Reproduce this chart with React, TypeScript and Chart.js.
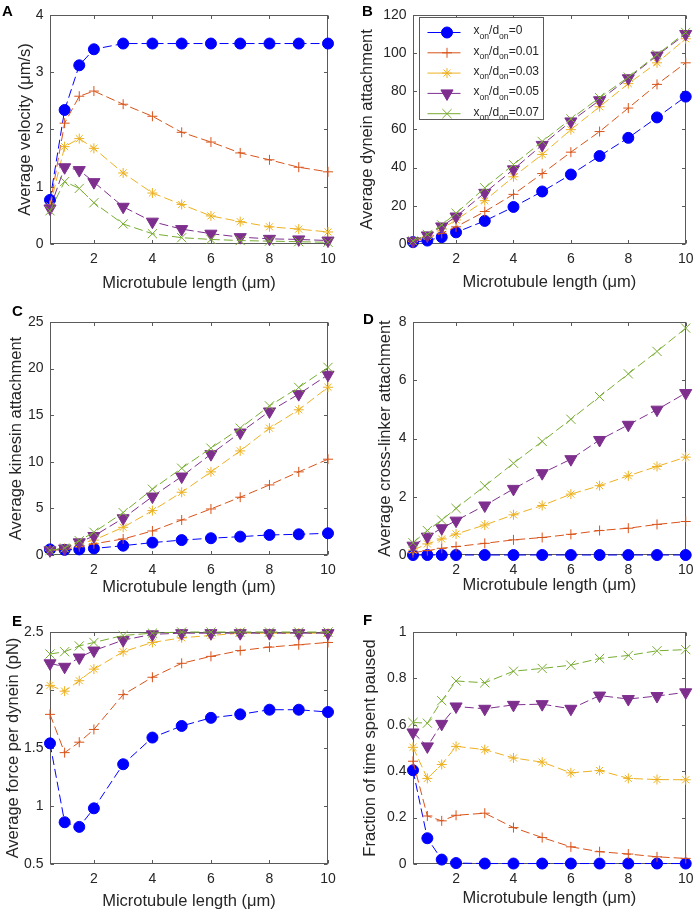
import React, { useEffect, useRef } from "react";
import { Chart, registerables } from "chart.js";

Chart.register(...registerables);

// ---------------- data ----------------
const lengths = [0.5, 1, 1.5, 2, 3, 4, 5, 6, 7, 8, 9, 10];
const ratioLabels = ["0", "0.01", "0.03", "0.05", "0.07"];
const xTicks = [2, 4, 6, 8, 10];

const velocityTicks = [0, 1, 2, 3, 4];
const velocitySeries = [
  [0.77, 2.34, 3.12, 3.4, 3.5, 3.5, 3.5, 3.5, 3.5, 3.5, 3.5, 3.5],
  [0.68, 2.11, 2.58, 2.67, 2.44, 2.23, 1.95, 1.78, 1.59, 1.47, 1.34, 1.26],
  [0.66, 1.7, 1.84, 1.67, 1.24, 0.89, 0.69, 0.49, 0.39, 0.3, 0.26, 0.21],
  [0.62, 1.34, 1.29, 1.08, 0.65, 0.39, 0.26, 0.18, 0.12, 0.09, 0.08, 0.06],
  [0.58, 1.09, 0.97, 0.72, 0.35, 0.18, 0.11, 0.08, 0.06, 0.05, 0.04, 0.03],
];

const dyneinTicks = [0, 20, 40, 60, 80, 100, 120];
const dyneinSeries = [
  [1.0, 1.8, 3.6, 6.1, 12.1, 19.4, 27.5, 36.4, 46.1, 55.6, 66.3, 77.2],
  [1.2, 3.3, 5.6, 9.0, 17.0, 26.0, 36.9, 48.1, 58.9, 71.2, 83.6, 94.9],
  [1.3, 4.0, 8.0, 12.6, 22.7, 35.2, 46.9, 59.9, 71.9, 84.0, 94.9, 107.5],
  [1.5, 4.5, 9.2, 14.4, 26.8, 39.1, 51.9, 64.2, 75.3, 86.8, 98.7, 110.0],
  [1.6, 5.0, 10.0, 16.1, 29.4, 41.6, 53.7, 65.5, 76.7, 87.4, 99.2, 110.8],
];

const kinesinTicks = [0, 5, 10, 15, 20, 25];
const kinesinSeries = [
  [0.6, 0.55, 0.6, 0.7, 1.0, 1.33, 1.6, 1.8, 1.97, 2.15, 2.22, 2.33],
  [0.5, 0.6, 0.9, 1.2, 1.72, 2.58, 3.76, 4.94, 6.2, 7.52, 8.92, 10.28],
  [0.5, 0.7, 1.2, 1.6, 2.97, 4.76, 6.73, 8.92, 11.17, 13.61, 15.58, 18.0],
  [0.5, 0.7, 1.36, 2.04, 3.94, 6.27, 8.42, 10.82, 13.14, 15.4, 17.26, 19.34],
  [0.5, 0.75, 1.54, 2.44, 4.55, 7.06, 9.31, 11.46, 13.61, 16.0, 17.98, 20.13],
];

const crosslinkerTicks = [0, 2, 4, 6, 8];
const crosslinkerSeries = [
  [0, 0, 0, 0, 0, 0, 0, 0, 0, 0, 0, 0],
  [0.08, 0.15, 0.23, 0.29, 0.4, 0.52, 0.6, 0.71, 0.84, 0.92, 1.05, 1.15],
  [0.17, 0.38, 0.55, 0.72, 1.03, 1.38, 1.7, 2.09, 2.38, 2.72, 3.04, 3.36],
  [0.32, 0.63, 0.92, 1.18, 1.7, 2.27, 2.81, 3.29, 3.95, 4.47, 4.99, 5.56],
  [0.42, 0.84, 1.2, 1.6, 2.37, 3.15, 3.9, 4.66, 5.44, 6.22, 6.99, 7.79],
];

const forceTicks = [0.5, 1, 1.5, 2, 2.5];
const forceSeries = [
  [1.54, 0.86, 0.82, 0.98, 1.36, 1.59, 1.69, 1.76, 1.79, 1.83, 1.83, 1.81],
  [1.79, 1.46, 1.55, 1.66, 1.96, 2.11, 2.23, 2.29, 2.34, 2.37, 2.39, 2.41],
  [2.04, 1.99, 2.08, 2.18, 2.33, 2.41, 2.45, 2.47, 2.49, 2.49, 2.49, 2.49],
  [2.23, 2.2, 2.28, 2.34, 2.43, 2.48, 2.49, 2.49, 2.49, 2.49, 2.49, 2.49],
  [2.31, 2.33, 2.38, 2.41, 2.47, 2.49, 2.5, 2.5, 2.5, 2.5, 2.5, 2.5],
];

const pausedTicks = [0, 0.2, 0.4, 0.6, 0.8, 1];
const pausedSeries = [
  [0.404, 0.111, 0.019, 0.004, 0.002, 0.002, 0.002, 0.002, 0.002, 0.002, 0.002, 0.002],
  [0.443, 0.207, 0.186, 0.21, 0.219, 0.157, 0.114, 0.074, 0.053, 0.043, 0.031, 0.024],
  [0.503, 0.369, 0.429, 0.507, 0.493, 0.457, 0.439, 0.393, 0.403, 0.369, 0.364, 0.363],
  [0.567, 0.507, 0.604, 0.679, 0.669, 0.686, 0.689, 0.669, 0.726, 0.711, 0.724, 0.74],
  [0.61, 0.607, 0.704, 0.789, 0.781, 0.831, 0.843, 0.857, 0.886, 0.899, 0.919, 0.924],
];

// ---------------- styles ----------------
const FONT = '"Liberation Sans", Arial, Helvetica, sans-serif';
const TEXT = "#262626";
const AXIS = "#5a5a5a";
const TITLE_SIZE = 16.5;
const TICK_SIZE = 14;
const COLORS = ["#0000ff", "#d95319", "#edb120", "#7e2f8e", "#77ac30"];
const MARKERS = [
  { style: "circle", radius: 5.5, filled: true, rotation: 0 },
  { style: "cross", radius: 5, filled: false, rotation: 0 },
  { style: "star", radius: 5, filled: false, rotation: 0 },
  { style: "triangle", radius: 7, filled: true, rotation: 180 },
  { style: "crossRot", radius: 6.5, filled: false, rotation: 0 },
];

type PanelDef = {
  letter: string;
  letterPos: [number, number];
  cell: [number, number, number, number];
  plot: [number, number, number, number];
  yTitle: string;
  yTitleCenter: number;
  xTitleCenter: number;
  yMin: number;
  yMax: number;
  yTicks: number[];
  series: number[][];
  legend?: boolean;
};

const panels: PanelDef[] = [
  { letter: "A", letterPos: [2, 5], cell: [0, 0, 350, 300], plot: [50, 12, 328, 244],
    yTitle: "Average velocity (μm/s)", yTitleCenter: 25, xTitleCenter: 283,
    yMin: 0, yMax: 4, yTicks: velocityTicks, series: velocitySeries },
  { letter: "B", letterPos: [362, 5], cell: [350, 0, 350, 300], plot: [413, 12, 691, 244],
    yTitle: "Average dynein attachment", yTitleCenter: 367.5, xTitleCenter: 282,
    yMin: 0, yMax: 120, yTicks: dyneinTicks, series: dyneinSeries, legend: true },
  { letter: "C", letterPos: [12, 305], cell: [0, 300, 350, 305], plot: [50, 322, 328, 555],
    yTitle: "Average kinesin attachment", yTitleCenter: 16, xTitleCenter: 587,
    yMin: 0, yMax: 25, yTicks: kinesinTicks, series: kinesinSeries },
  { letter: "D", letterPos: [363, 313], cell: [350, 300, 350, 305], plot: [413, 322, 691, 555],
    yTitle: "Average cross-linker attachment", yTitleCenter: 385, xTitleCenter: 585,
    yMin: 0, yMax: 8, yTicks: crosslinkerTicks, series: crosslinkerSeries },
  { letter: "E", letterPos: [12, 615], cell: [0, 605, 350, 307], plot: [50, 632, 328, 864],
    yTitle: "Average force per dynein (pN)", yTitleCenter: 13, xTitleCenter: 901,
    yMin: 0.5, yMax: 2.5, yTicks: forceTicks, series: forceSeries },
  { letter: "F", letterPos: [363, 614], cell: [350, 605, 350, 307], plot: [413, 632, 691, 864],
    yTitle: "Fraction of time spent paused", yTitleCenter: 370, xTitleCenter: 898,
    yMin: 0, yMax: 1, yTicks: pausedTicks, series: pausedSeries },
];

// ---------------- plugins ----------------
const boxPlugin = {
  id: "matlabBox",
  beforeDatasetsDraw(chart: any) {
    const { ctx, chartArea, scales } = chart;
    const L = Math.round(chartArea.left) + 0.5;
    const T = Math.round(chartArea.top) + 0.5;
    const R = Math.round(chartArea.right) - 0.5;
    const B = Math.round(chartArea.bottom) - 0.5;
    ctx.save();
    ctx.strokeStyle = AXIS;
    ctx.lineWidth = 1;
    ctx.strokeRect(L, T, R - L, B - T);
    ctx.beginPath();
    const tl = 3.5;
    scales.x.ticks.forEach((t: any) => {
      const px = Math.round(scales.x.getPixelForValue(t.value)) + 0.5;
      ctx.moveTo(px, B); ctx.lineTo(px, B - tl);
      ctx.moveTo(px, T); ctx.lineTo(px, T + tl);
    });
    scales.y.ticks.forEach((t: any) => {
      const py = Math.round(scales.y.getPixelForValue(t.value)) + 0.5;
      ctx.moveTo(L, py); ctx.lineTo(L + tl, py);
      ctx.moveTo(R, py); ctx.lineTo(R - tl, py);
    });
    ctx.stroke();
    ctx.restore();
  },
};

function drawMarker(ctx: CanvasRenderingContext2D, idx: number, x: number, y: number) {
  const m = MARKERS[idx];
  const c = COLORS[idx];
  const r = m.radius;
  ctx.save();
  ctx.strokeStyle = c;
  ctx.fillStyle = c;
  ctx.lineWidth = 1;
  ctx.setLineDash([]);
  ctx.beginPath();
  if (m.style === "circle") {
    ctx.arc(x, y, r, 0, Math.PI * 2);
    ctx.fill();
    ctx.stroke();
  } else if (m.style === "cross") {
    ctx.moveTo(x - r, y); ctx.lineTo(x + r, y);
    ctx.moveTo(x, y - r); ctx.lineTo(x, y + r);
    ctx.stroke();
  } else if (m.style === "star") {
    const d = r * Math.SQRT1_2;
    ctx.moveTo(x - r, y); ctx.lineTo(x + r, y);
    ctx.moveTo(x, y - r); ctx.lineTo(x, y + r);
    ctx.moveTo(x - d, y - d); ctx.lineTo(x + d, y + d);
    ctx.moveTo(x - d, y + d); ctx.lineTo(x + d, y - d);
    ctx.stroke();
  } else if (m.style === "triangle") {
    for (let k = 0; k < 3; k++) {
      const a = Math.PI / 2 + (k * 2 * Math.PI) / 3;
      const px = x + Math.cos(a) * r;
      const py = y + Math.sin(a) * r;
      if (k === 0) ctx.moveTo(px, py); else ctx.lineTo(px, py);
    }
    ctx.closePath();
    ctx.fill();
    ctx.stroke();
  } else {
    const d = r * Math.SQRT1_2;
    ctx.moveTo(x - d, y - d); ctx.lineTo(x + d, y + d);
    ctx.moveTo(x - d, y + d); ctx.lineTo(x + d, y - d);
    ctx.stroke();
  }
  ctx.restore();
}

const legendPlugin = {
  id: "matlabLegend",
  afterDraw(chart: any) {
    const { ctx, chartArea } = chart;
    const bx = Math.round(chartArea.left) + 6.5;
    const by = Math.round(chartArea.top) + 2.5;
    const big = `12px ${FONT}`;
    const small = `8.6px ${FONT}`;
    const rows = chart.data.datasets.map((ds: any) => [
      ["x", false], ["on", true], ["/d", false], ["on", true], ["=" + ds.label, false],
    ] as [string, boolean][]);
    ctx.save();
    let maxW = 0;
    rows.forEach((parts: [string, boolean][]) => {
      let w = 0;
      parts.forEach(([s, sub]) => { ctx.font = sub ? small : big; w += ctx.measureText(s).width; });
      maxW = Math.max(maxW, w);
    });
    const textX = bx + 54;
    const bw = Math.round(textX + maxW + 5 - bx);
    const bh = 102;
    ctx.fillStyle = "#ffffff";
    ctx.fillRect(bx, by, bw, bh);
    ctx.strokeStyle = AXIS;
    ctx.lineWidth = 1;
    ctx.strokeRect(bx, by, bw, bh);
    rows.forEach((parts: [string, boolean][], i: number) => {
      const y = by + 15 + i * 20.3;
      ctx.strokeStyle = COLORS[i];
      ctx.lineWidth = 1;
      ctx.beginPath();
      ctx.moveTo(bx + 8, y);
      ctx.lineTo(bx + 41, y);
      ctx.stroke();
      drawMarker(ctx, i, bx + 27.5, y);
      ctx.fillStyle = TEXT;
      ctx.textBaseline = "middle";
      ctx.textAlign = "left";
      let tx = textX;
      parts.forEach(([s, sub]) => {
        ctx.font = sub ? small : big;
        ctx.fillText(s, tx, sub ? y + 4 : y - 1.5);
        tx += ctx.measureText(s).width;
      });
    });
    ctx.restore();
  },
};

// ---------------- components ----------------
function Panel({ def }: { def: PanelDef }) {
  const ref = useRef<HTMLCanvasElement | null>(null);
  useEffect(() => {
    if (!ref.current) return;
    const [cx, cy, cw, ch] = def.cell;
    const [pl, pt, pr, pb] = def.plot;
    const titleHalf = (TITLE_SIZE * 1.2) / 2;
    const chart = new Chart(ref.current, {
      type: "line",
      data: {
        datasets: def.series.map((ys, i) => ({
          label: ratioLabels[i],
          data: lengths.map((x, j) => ({ x, y: ys[j] })),
          borderColor: COLORS[i],
          backgroundColor: COLORS[i],
          borderWidth: 1,
          borderDash: [9, 4],
          tension: 0,
          fill: false,
          clip: false,
          order: 5 - i,
          pointStyle: MARKERS[i].style as any,
          pointRadius: MARKERS[i].radius,
          pointRotation: MARKERS[i].rotation,
          pointBorderWidth: 1,
          pointBorderColor: COLORS[i],
          pointBackgroundColor: MARKERS[i].filled ? COLORS[i] : "rgba(0,0,0,0)",
        })),
      },
      options: {
        animation: false,
        responsive: false,
        events: [],
        layout: { padding: { left: 0, top: pt - cy, right: cx + cw - pr, bottom: 0 } },
        plugins: { legend: { display: false }, tooltip: { enabled: false } },
        scales: {
          x: {
            type: "linear",
            min: 0.5,
            max: 10,
            grid: { display: false, drawTicks: false },
            border: { display: false },
            afterBuildTicks: (s: any) => { s.ticks = xTicks.map((v) => ({ value: v })); },
            afterFit: (s: any) => { s.height = cy + ch - pb; },
            ticks: {
              color: TEXT, font: { family: FONT, size: TICK_SIZE }, padding: 6.5,
              maxRotation: 0, autoSkip: false, callback: (v: any) => String(v),
            },
            title: {
              display: true, text: "Microtubule length (μm)", color: TEXT,
              font: { family: FONT, size: TITLE_SIZE },
              padding: { top: 0, bottom: cy + ch - def.xTitleCenter - titleHalf },
            },
          },
          y: {
            type: "linear",
            min: def.yMin,
            max: def.yMax,
            grid: { display: false, drawTicks: false },
            border: { display: false },
            afterBuildTicks: (s: any) => { s.ticks = def.yTicks.map((v) => ({ value: v })); },
            afterFit: (s: any) => { s.width = pl - cx; },
            ticks: {
              color: TEXT, font: { family: FONT, size: TICK_SIZE }, padding: 6.5,
              autoSkip: false, callback: (v: any) => String(v),
            },
            title: {
              display: true, text: def.yTitle, color: TEXT,
              font: { family: FONT, size: TITLE_SIZE },
              padding: { top: def.yTitleCenter - cx - titleHalf, bottom: 0 },
            },
          },
        },
      } as any,
      plugins: def.legend ? [boxPlugin, legendPlugin] : [boxPlugin],
    });
    return () => chart.destroy();
  }, [def]);
  const [cx, cy, cw, ch] = def.cell;
  return (
    <canvas
      ref={ref}
      width={cw}
      height={ch}
      style={{ position: "absolute", left: cx, top: cy, width: cw, height: ch }}
    />
  );
}

export default function App() {
  return (
    <div style={{ position: "absolute", left: 0, top: 0, width: 700, height: 912, background: "#ffffff", overflow: "hidden" }}>
      {panels.map((p) => (
        <Panel key={p.letter} def={p} />
      ))}
      {panels.map((p) => (
        <div
          key={"l" + p.letter}
          style={{
            position: "absolute", left: p.letterPos[0], top: p.letterPos[1] - 2,
            fontFamily: FONT, fontWeight: "bold", fontSize: 15, lineHeight: "15px", color: "#000",
          }}
        >
          {p.letter}
        </div>
      ))}
    </div>
  );
}
